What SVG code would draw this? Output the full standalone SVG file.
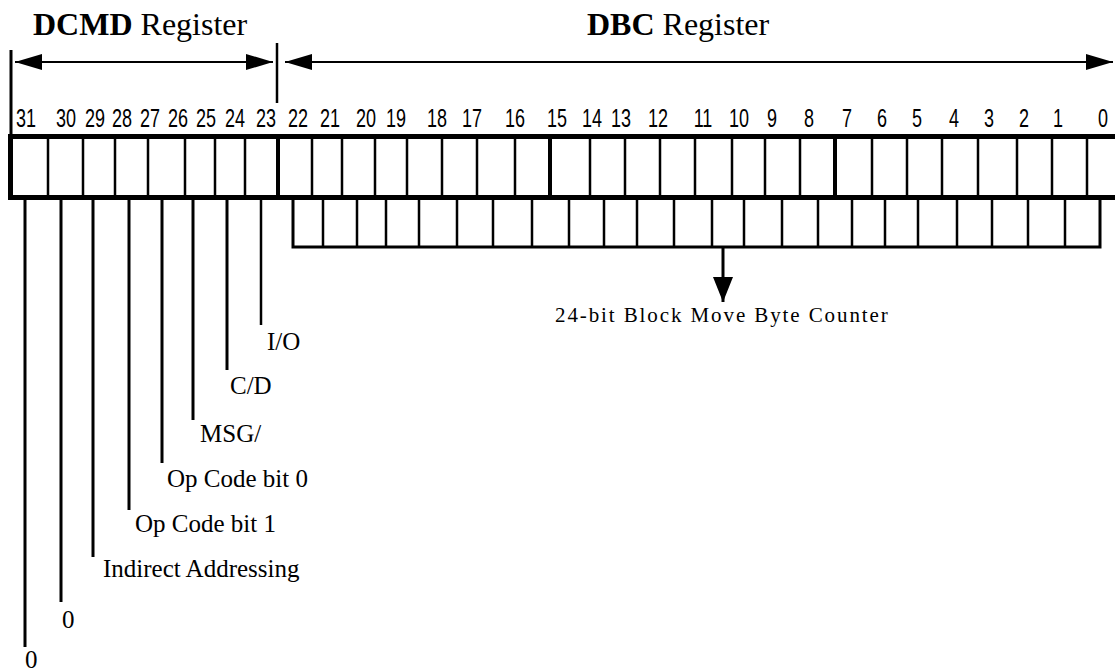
<svg xmlns="http://www.w3.org/2000/svg" width="1115" height="672" viewBox="0 0 1115 672">
<style>
.title{font-family:"Liberation Serif","Times New Roman",serif;font-size:32px;fill:#000}
.lbl{font-family:"Liberation Serif","Times New Roman",serif;font-size:25px;fill:#000}
.cnt{font-family:"Liberation Serif","Times New Roman",serif;font-size:21px;letter-spacing:1.9px;fill:#000}
.num{font-family:"Liberation Sans",Arial,sans-serif;font-size:25px;fill:#000;text-anchor:middle}
.frame{stroke:#000;stroke-width:5;fill:none}
.div{stroke:#000;stroke-width:2.5}
.divt{stroke:#000;stroke-width:4}
.lead{stroke:#000;stroke-width:3;fill:none}
.arr{stroke:#000;stroke-width:2;fill:none}
</style>
<defs>
<marker id="ah" viewBox="0 0 27 16" refX="27" refY="8" markerWidth="27" markerHeight="16" markerUnits="userSpaceOnUse" orient="auto-start-reverse"><path d="M0,0 L27,8 L0,16 z" fill="#000"/></marker>
<marker id="ahd" viewBox="0 0 25 20" refX="25" refY="10" markerWidth="25" markerHeight="20" markerUnits="userSpaceOnUse" orient="auto"><path d="M0,0 L25,10 L0,20 z" fill="#000"/></marker>
</defs>
<g id="title-dcmd"><text class="title" x="33" y="35"><tspan font-weight="bold">DCMD</tspan> Register</text></g>
<g id="title-dbc"><text class="title" x="587" y="35"><tspan font-weight="bold">DBC</tspan> Register</text></g>
<g id="bit-numbers" transform="scale(0.72 1)">
<text class="num" y="127" x="36.1">31</text>
<text class="num" y="127" x="91.7">30</text>
<text class="num" y="127" x="131.9">29</text>
<text class="num" y="127" x="169.4">28</text>
<text class="num" y="127" x="208.3">27</text>
<text class="num" y="127" x="247.2">26</text>
<text class="num" y="127" x="286.1">25</text>
<text class="num" y="127" x="326.4">24</text>
<text class="num" y="127" x="369.4">23</text>
<text class="num" y="127" x="413.9">22</text>
<text class="num" y="127" x="458.3">21</text>
<text class="num" y="127" x="508.3">20</text>
<text class="num" y="127" x="550">19</text>
<text class="num" y="127" x="606.9">18</text>
<text class="num" y="127" x="655.6">17</text>
<text class="num" y="127" x="715.3">16</text>
<text class="num" y="127" x="773.6">15</text>
<text class="num" y="127" x="822.2">14</text>
<text class="num" y="127" x="862.5">13</text>
<text class="num" y="127" x="913.9">12</text>
<text class="num" y="127" x="976.4">11</text>
<text class="num" y="127" x="1026.4">10</text>
<text class="num" y="127" x="1072.2">9</text>
<text class="num" y="127" x="1123.6">8</text>
<text class="num" y="127" x="1176.4">7</text>
<text class="num" y="127" x="1225">6</text>
<text class="num" y="127" x="1273.6">5</text>
<text class="num" y="127" x="1325">4</text>
<text class="num" y="127" x="1373.6">3</text>
<text class="num" y="127" x="1422.2">2</text>
<text class="num" y="127" x="1469.4">1</text>
<text class="num" y="127" x="1531.9">0</text>
</g>
<g id="register-top">
<path class="frame" d="M1115,136.5 H10.5 V197.5 H1115"/>
<path class="div" d="M48,136V198 M83,136V198 M115,136V198 M148,136V198 M185,136V198 M215,136V198 M245,136V198 M312,136V198 M342,136V198 M375,136V198 M407,136V198 M442,136V198 M477,136V198 M515,136V198 M590,136V198 M625,136V198 M660,136V198 M695,136V198 M732,136V198 M765,136V198 M800,136V198 M872,136V198 M907,136V198 M942,136V198 M978,136V198 M1017,136V198 M1052,136V198 M1087,136V198"/>
<path class="divt" d="M278,136V198 M550,136V198 M835,136V198"/>
</g>
<g id="register-bottom">
<path class="lead" d="M293,199 V247 H1100 V199"/>
<path class="div" d="M323,199V247 M357,199V247 M386,199V247 M419,199V247 M457,199V247 M493,199V247 M532,199V247 M569,199V247 M604,199V247 M637,199V247 M674,199V247 M712,199V247 M744,199V247 M782,199V247 M818,199V247 M852,199V247 M885,199V247 M918,199V247 M957,199V247 M992,199V247 M1028,199V247 M1065,199V247"/>
</g>
<g id="connectors">
<line class="lead" x1="11" y1="50" x2="11" y2="136"/>
<line class="div" x1="277" y1="43" x2="277" y2="103"/>
<line class="arr" x1="15" y1="62" x2="273" y2="62" marker-start="url(#ah)" marker-end="url(#ah)"/>
<line class="arr" x1="285" y1="62" x2="1113" y2="62" marker-start="url(#ah)" marker-end="url(#ah)"/>
<line class="lead" x1="723" y1="247" x2="723" y2="302" marker-end="url(#ahd)"/>
<line class="div" x1="261" y1="199" x2="261" y2="325"/>
<line class="lead" x1="227" y1="199" x2="227" y2="370"/>
<line class="lead" x1="193" y1="199" x2="193" y2="420"/>
<line class="lead" x1="162" y1="199" x2="162" y2="463"/>
<line class="lead" x1="129" y1="199" x2="129" y2="510"/>
<line class="lead" x1="93" y1="199" x2="93" y2="557"/>
<line class="lead" x1="61" y1="199" x2="61" y2="602"/>
<line class="lead" x1="25" y1="199" x2="25" y2="647"/>
</g>
<g id="label-counter"><text class="cnt" x="555" y="322">24-bit Block Move Byte Counter</text></g>
<g id="label-io"><text class="lbl" x="267" y="350">I/O</text></g>
<g id="label-cd"><text class="lbl" x="230" y="394">C/D</text></g>
<g id="label-msg"><text class="lbl" x="200" y="442">MSG/</text></g>
<g id="label-op0"><text class="lbl" x="167" y="487">Op Code bit 0</text></g>
<g id="label-op1"><text class="lbl" x="135" y="532">Op Code bit 1</text></g>
<g id="label-ind"><text class="lbl" x="103" y="577">Indirect Addressing</text></g>
<g id="label-b30"><text class="lbl" x="62" y="628">0</text></g>
<g id="label-b31"><text class="lbl" x="25" y="668">0</text></g>
</svg>
